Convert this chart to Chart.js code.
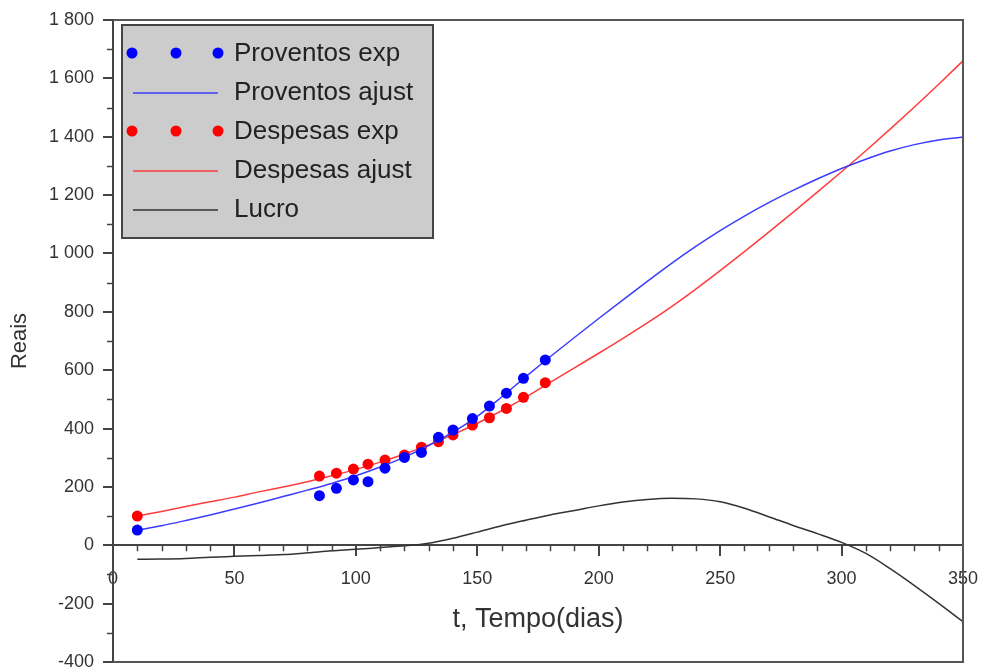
<!DOCTYPE html>
<html>
<head>
<meta charset="utf-8">
<title>Proventos e despesas</title>
<script src="https://cdn.jsdelivr.net/npm/chart.js@4.4.0/dist/chart.umd.min.js"></script>
<style>
  html, body { margin: 0; padding: 0; background: #fff; }
</style>
</head>
<body>
<canvas id="grafico" width="984" height="669"></canvas>
<script>
// dias para as curvas ajustadas
const dias = [10, 20, 30, 40, 50, 60, 70, 80, 90, 100, 110, 120, 130, 140, 150, 160, 170, 180,
  190, 200, 210, 220, 230, 240, 250, 260, 270, 280, 290, 300, 310, 320, 330, 340, 350];
const proventosAjust = [52, 67, 85, 104, 124, 145, 167, 189, 212, 238, 268, 302, 342, 388, 442, 508, 578, 646,
  712, 777, 841, 904, 966, 1024, 1078, 1128, 1174, 1216, 1255, 1291, 1323, 1351, 1373, 1389, 1399];
const despesasAjust = [100, 116, 133, 149, 165, 183, 200, 218, 238, 260, 285, 313, 344, 379, 418, 461, 508, 558,
  608, 658, 709, 762, 818, 878, 941, 1006, 1073, 1141, 1210, 1280, 1352, 1426, 1502, 1580, 1660];
const lucro = [-48, -47, -45, -41, -38, -35, -32, -26, -19, -14, -8, -2, 7, 24, 45, 67, 86, 104,
  119, 135, 148, 157, 161, 159, 149, 127, 98, 68, 40, 10, -28, -80, -138, -199, -262];

// dados experimentais
const diasExp = [10, 85, 92, 99, 105, 112, 120, 127, 134, 140, 148, 155, 162, 169, 178];
const proventosExp = [52, 170, 195, 224, 218, 264, 301, 318, 370, 395, 434, 477, 521, 572, 635];
const despesasExp = [100, 237, 247, 261, 278, 292, 309, 336, 355, 378, 412, 437, 469, 507, 557];

// marcas dos eixos
const ticksX = [0, 50, 100, 150, 200, 250, 300, 350];
const ticksY = [-400, -200, 0, 200, 400, 600, 800, 1000, 1200, 1400, 1600, 1800];

const fonte = "'Liberation Sans', Arial, sans-serif";

function pares(xs, ys) {
  return xs.map((x, i) => ({ x: x, y: ys[i] }));
}

function formatar(v) {
  const s = String(Math.abs(v));
  const t = s.length > 3 ? s.slice(0, s.length - 3) + " " + s.slice(s.length - 3) : s;
  return (v < 0 ? "-" : "") + t;
}

// caixa, marcas menores e legenda
const extras = {
  id: "extras",
  afterDraw(chart) {
    const ctx = chart.ctx;
    const area = chart.chartArea;
    const sx = chart.scales.x;
    const sy = chart.scales.y;
    ctx.save();
    ctx.strokeStyle = "#555";
    ctx.lineWidth = 2;
    ctx.beginPath();
    ctx.moveTo(area.left, area.top);
    ctx.lineTo(area.right, area.top);
    ctx.lineTo(area.right, area.bottom);
    ctx.lineTo(area.left, area.bottom);
    ctx.stroke();

    // marcas menores
    ctx.strokeStyle = "#444";
    ctx.lineWidth = 1.5;
    ctx.beginPath();
    for (let i = 0; i < ticksY.length - 1; i++) {
      const py = Math.round(sy.getPixelForValue((ticksY[i] + ticksY[i + 1]) / 2)) + 0.5;
      ctx.moveTo(area.left - 6, py);
      ctx.lineTo(area.left, py);
    }
    const y0 = sy.getPixelForValue(0);
    for (let i = 0; i < ticksX.length - 1; i++) {
      for (let k = 1; k < 5; k++) {
        const px = Math.round(sx.getPixelForValue(ticksX[i] + (ticksX[i + 1] - ticksX[i]) * k / 5)) + 0.5;
        ctx.moveTo(px, y0);
        ctx.lineTo(px, y0 + 6);
      }
    }
    ctx.stroke();

    // legenda
    ctx.fillStyle = "#cccccc";
    ctx.fillRect(122, 25, 311, 213);
    ctx.strokeStyle = "#444";
    ctx.lineWidth = 2;
    ctx.strokeRect(122, 25, 311, 213);
    ctx.font = "26px " + fonte;
    ctx.textBaseline = "middle";
    chart.data.datasets.forEach(function (ds, i) {
      const y = 53 + i * 39;
      if (ds.showLine) {
        ctx.strokeStyle = ds.borderColor;
        ctx.lineWidth = 1.5;
        ctx.beginPath();
        ctx.moveTo(133, y + 1);
        ctx.lineTo(218, y + 1);
        ctx.stroke();
      } else {
        ctx.fillStyle = ds.backgroundColor;
        [132, 176, 218].forEach(function (px) {
          ctx.beginPath();
          ctx.arc(px, y, 5.5, 0, Math.PI * 2);
          ctx.fill();
        });
      }
      ctx.fillStyle = "#222";
      ctx.fillText(ds.label, 234, y + 1);
    });
    ctx.restore();
  }
};

const ctx = document.getElementById("grafico").getContext("2d");
const grafico = new Chart(ctx, {
  type: "scatter",
  data: {
    datasets: [
      {
        label: "Proventos exp",
        data: pares(diasExp, proventosExp),
        backgroundColor: "#0000ff",
        borderColor: "#0000ff",
        pointRadius: 5.5,
        borderWidth: 0,
        showLine: false
      },
      {
        label: "Proventos ajust",
        data: pares(dias, proventosAjust),
        borderColor: "#3c3cff",
        borderWidth: 1.5,
        pointRadius: 0,
        showLine: true,
        cubicInterpolationMode: "monotone"
      },
      {
        label: "Despesas exp",
        data: pares(diasExp, despesasExp),
        backgroundColor: "#ff0000",
        borderColor: "#ff0000",
        pointRadius: 5.5,
        borderWidth: 0,
        showLine: false
      },
      {
        label: "Despesas ajust",
        data: pares(dias, despesasAjust),
        borderColor: "#ff3c3c",
        borderWidth: 1.5,
        pointRadius: 0,
        showLine: true,
        cubicInterpolationMode: "monotone"
      },
      {
        label: "Lucro",
        data: pares(dias, lucro),
        borderColor: "#333333",
        borderWidth: 1.5,
        pointRadius: 0,
        showLine: true,
        cubicInterpolationMode: "monotone"
      }
    ]
  },
  options: {
    responsive: false,
    animation: false,
    devicePixelRatio: 1,
    layout: { padding: { left: 0, top: 20, right: 21, bottom: 7 } },
    plugins: {
      legend: { display: false },
      tooltip: { enabled: false }
    },
    scales: {
      x: {
        type: "linear",
        position: { y: 0 },
        min: 0,
        max: 350,
        afterBuildTicks: function (scale) {
          scale.ticks = ticksX.map(v => ({ value: v }));
        },
        afterFit: function (scale) {
          scale.paddingLeft = 0;
          scale.paddingRight = 0;
        },
        grid: { drawOnChartArea: false, tickLength: 10, color: "#444", lineWidth: 2 },
        border: { color: "#444", width: 2 },
        ticks: {
          padding: 13,
          maxRotation: 0,
          autoSkip: false,
          color: "#333",
          font: { family: fonte, size: 18 },
          callback: v => String(v)
        },
        title: {
          display: true,
          text: "t, Tempo(dias)",
          color: "#333",
          font: { family: fonte, size: 27 },
          padding: { top: 0, bottom: 0 }
        }
      },
      y: {
        type: "linear",
        position: "left",
        min: -400,
        max: 1800,
        afterBuildTicks: function (scale) {
          scale.ticks = ticksY.map(v => ({ value: v }));
        },
        afterFit: function (scale) {
          scale.width = 113;
          scale.paddingTop = 0;
          scale.paddingBottom = 0;
        },
        grid: { drawOnChartArea: false, tickLength: 10, color: "#444", lineWidth: 2 },
        border: { color: "#444", width: 2 },
        ticks: {
          padding: 9,
          autoSkip: false,
          color: "#333",
          font: { family: fonte, size: 18 },
          callback: v => formatar(v)
        },
        title: {
          display: true,
          text: "Reais",
          color: "#333",
          font: { family: fonte, size: 22 },
          padding: { top: 7, bottom: 0 }
        }
      }
    }
  },
  plugins: [extras]
});
</script>
</body>
</html>
